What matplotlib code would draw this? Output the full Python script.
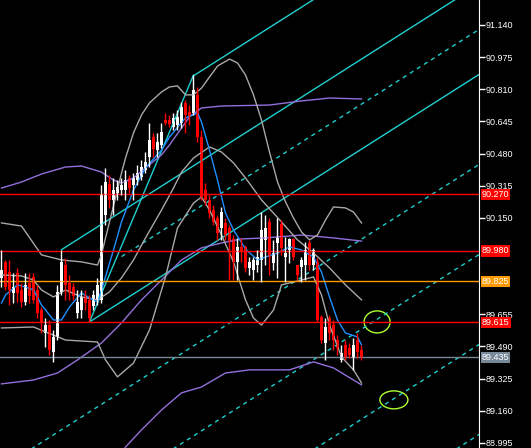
import numpy as np
import matplotlib.pyplot as plt
from matplotlib.patches import Ellipse

# Velas (precios)
opens = [89.842, 89.919, 89.872, 89.765, 89.867, 89.780, 89.718, 89.816, 89.847, 89.780,
         89.677, 89.559, 89.600, 89.462, 89.539, 89.770, 89.908, 89.816, 89.795, 89.662,
         89.677, 89.754, 89.729, 89.698, 89.729, 89.729, 90.165, 90.324, 90.242, 90.278,
         90.293, 90.293, 90.355, 90.319, 90.344, 90.360, 90.396, 90.462, 90.565, 90.498,
         90.524, 90.652, 90.652, 90.616, 90.627, 90.637, 90.740, 90.693, 90.688, 90.781,
         90.565, 90.293, 90.242, 90.190, 90.149, 90.098, 90.124, 90.098, 90.037, 89.924,
         90.001, 89.996, 89.893, 89.883, 89.908, 89.934, 90.037, 90.129, 89.919, 90.021,
         90.114, 89.949, 89.985, 90.037, 89.908, 89.898, 89.908, 90.021, 89.908, 89.924,
         89.641, 89.508, 89.636, 89.600, 89.523, 89.421, 89.498, 89.482, 89.431, 89.523,
         89.472]
highs = [89.985, 89.934, 89.934, 89.867, 89.893, 89.816, 89.867, 89.867, 89.867, 89.806,
         89.693, 89.636, 89.626, 89.575, 89.806, 89.985, 89.944, 89.857, 89.816, 89.780,
         89.780, 89.780, 89.754, 89.780, 89.842, 90.319, 90.406, 90.370, 90.355, 90.344,
         90.355, 90.396, 90.370, 90.380, 90.421, 90.447, 90.488, 90.637, 90.586, 90.586,
         90.637, 90.688, 90.678, 90.688, 90.704, 90.745, 90.755, 90.729, 90.883, 90.822,
         90.601, 90.329, 90.267, 90.216, 90.165, 90.206, 90.149, 90.114, 90.062, 90.047,
         90.047, 90.011, 89.949, 89.949, 89.985, 90.180, 90.165, 90.149, 90.037, 90.149,
         90.139, 90.052, 90.047, 90.047, 89.908, 89.949, 90.026, 90.037, 89.996, 89.944,
         89.652, 89.636, 89.652, 89.626, 89.549, 89.498, 89.523, 89.508, 89.534, 89.559,
         89.498]
lows = [89.795, 89.780, 89.703, 89.713, 89.718, 89.693, 89.703, 89.713, 89.713, 89.636,
        89.559, 89.488, 89.446, 89.411, 89.523, 89.754, 89.729, 89.729, 89.729, 89.636,
        89.636, 89.677, 89.616, 89.677, 89.703, 89.713, 90.114, 90.201, 90.165, 90.242,
        90.267, 90.242, 90.278, 90.242, 90.319, 90.344, 90.380, 90.411, 90.462, 90.462,
        90.509, 90.627, 90.616, 90.601, 90.601, 90.611, 90.586, 90.627, 90.678, 90.539,
        90.242, 90.216, 90.149, 90.114, 90.037, 90.037, 90.037, 89.831, 89.831, 89.831,
        89.924, 89.872, 89.857, 89.831, 89.872, 89.821, 89.908, 89.857, 89.883, 89.842,
        89.960, 89.821, 89.919, 89.934, 89.831, 89.821, 89.831, 89.883, 89.883, 89.616,
        89.508, 89.421, 89.523, 89.472, 89.446, 89.411, 89.421, 89.431, 89.370, 89.431,
        89.421]
closes = [89.883, 89.795, 89.780, 89.795, 89.765, 89.718, 89.806, 89.749, 89.729, 89.662,
          89.611, 89.600, 89.472, 89.539, 89.770, 89.919, 89.806, 89.765, 89.749, 89.718,
          89.744, 89.713, 89.636, 89.754, 89.806, 90.267, 90.334, 90.242, 90.293, 90.308,
          90.319, 90.344, 90.303, 90.355, 90.380, 90.411, 90.437, 90.550, 90.503, 90.539,
          90.591, 90.637, 90.632, 90.663, 90.668, 90.719, 90.678, 90.668, 90.806, 90.565,
          90.257, 90.242, 90.175, 90.129, 90.072, 90.180, 90.062, 90.026, 89.924, 90.001,
          89.975, 89.893, 89.924, 89.934, 89.949, 90.088, 90.098, 89.949, 89.970, 90.047,
          89.996, 89.970, 90.037, 89.949, 89.857, 89.934, 89.985, 89.908, 89.985, 89.626,
          89.523, 89.590, 89.559, 89.523, 89.482, 89.457, 89.436, 89.446, 89.498, 89.462,
          89.436]

# Bandas de Bollinger (gris), leídas cada pocas velas
bb_up_x = [0, 5, 10, 15, 20, 24, 25, 26, 28, 30, 31, 33, 35, 37, 40, 42, 44, 46, 48, 50,
           52, 54, 57, 59, 61, 63, 65, 67, 69, 71, 73, 75, 77, 79, 81, 83, 86, 88, 90]
bb_up = [90.124, 90.108, 89.960, 89.934, 89.924, 89.908, 89.960, 90.047, 90.211, 90.380,
         90.457, 90.586, 90.678, 90.740, 90.796, 90.822, 90.827, 90.781, 90.781, 90.816,
         90.873, 90.929, 90.965, 90.945, 90.883, 90.781, 90.652, 90.488, 90.334, 90.232,
         90.149, 90.078, 90.037, 90.062, 90.139, 90.206, 90.201, 90.180, 90.124]
bb_mid_x = [0, 5, 8, 10, 13, 16, 20, 24, 27, 30, 33, 36, 40, 43, 45, 48, 52, 55, 58, 61,
            65, 70, 74, 78, 82, 86, 90]
bb_mid = [89.857, 89.852, 89.831, 89.780, 89.744, 89.780, 89.744, 89.729, 89.770, 89.842,
          89.934, 90.047, 90.190, 90.303, 90.385, 90.457, 90.514, 90.488, 90.432, 90.355,
          90.242, 90.129, 90.037, 89.970, 89.893, 89.806, 89.729]
bb_low_x = [0, 8, 16, 24, 26, 29, 33, 37, 41, 44, 48, 50, 52, 55, 58, 61, 63, 65, 68, 70,
            75, 78, 80, 82, 85, 88, 90]
bb_low = [89.585, 89.590, 89.523, 89.513, 89.421, 89.334, 89.405, 89.575, 89.847, 90.098,
          90.226, 90.257, 90.190, 90.062, 89.924, 89.729, 89.636, 89.600, 89.677, 89.806,
          89.831, 89.847, 89.754, 89.600, 89.436, 89.370, 89.303]

# Bandas lentas (violeta)
pb_up_x = [0, 5, 10, 16, 20, 25, 28, 30, 33, 36, 40, 42, 45, 47, 50, 55, 67, 75, 82, 90]
pb_up = [90.303, 90.334, 90.375, 90.411, 90.416, 90.385, 90.344, 90.329, 90.355, 90.406,
         90.473, 90.524, 90.611, 90.668, 90.714, 90.724, 90.729, 90.750, 90.765, 90.760]
pb_mid_x = [0, 8, 14, 19, 25, 30, 35, 40, 45, 50, 55, 60, 66, 75, 83, 90]
pb_mid = [89.298, 89.318, 89.354, 89.421, 89.508, 89.611, 89.729, 89.831, 89.934, 89.996,
          90.021, 90.042, 90.047, 90.062, 90.047, 90.031]
pb_low_x = [30, 31, 35, 40, 45, 50, 56, 62, 72, 78, 83, 90]
pb_low = [88.933, 88.974, 89.062, 89.164, 89.252, 89.282, 89.354, 89.370, 89.370, 89.411,
          89.380, 89.293]

# Media móvil rápida (azul)
ma_x = [0, 1, 4, 6, 8, 10, 13, 15, 17, 20, 22, 24, 25, 28, 30, 33, 36, 40, 42, 46,
        49, 50, 52, 54, 56, 58, 61, 64, 66, 69, 72, 75, 78, 80, 82, 84, 86, 89, 90]
ma = [89.713, 89.754, 89.806, 89.795, 89.780, 89.703, 89.626, 89.626, 89.693, 89.765,
      89.739, 89.718, 89.780, 89.985, 90.129, 90.293, 90.406, 90.498, 90.565, 90.663,
      90.688, 90.642, 90.498, 90.344, 90.175, 90.088, 89.990, 89.934, 89.949, 89.970,
      90.001, 89.985, 89.949, 89.872, 89.744, 89.626, 89.559, 89.539, 89.498]

# Canal: punto base, pendiente (precio por vela), ancho y niveles
canal_base_x = 22
canal_base_y = 89.616
canal_pend = 0.01304
canal_ancho = 0.462
canal_niveles = [2, 1, 0.5, 0, -1, -2, -3, -4]
canal_inicio = [48, 15, 30, 22, -1, -1, -1, -1]
canal_solida = [True, True, False, True, False, False, False, False]

# Línea de tendencia (mínimo -> máximo)
tend_x = [22, 48]
tend_y = [89.616, 90.883]

# Líneas horizontales
hlineas = [90.270, 89.980, 89.825, 89.615, 89.435]
hcolores = ['#ff0000', '#ff0000', '#ff9900', '#ff0000', '#778899']

ticks = [91.140, 90.975, 90.810, 90.645, 90.480, 90.315, 90.150,
         89.655, 89.490, 89.325, 89.160, 88.995]

fig = plt.figure(figsize=(5.31, 4.48), dpi=100, facecolor='black')
ax = fig.add_axes([0, 0, 479 / 531, 1])
ax.set_facecolor('black')
ax.set_xlim(-0.375, 119.375)
ax.set_ylim(88.969, 91.268)

# Canal
cyan = '#20d0d0'
xfin = 121
for nivel, ini, solida in zip(canal_niveles, canal_inicio, canal_solida):
    xs = np.array([ini, xfin])
    ys = canal_base_y + canal_pend * (xs - canal_base_x) + nivel * canal_ancho
    if solida:
        ax.plot(xs, ys, color=cyan, lw=1)
    else:
        ax.plot(xs, ys, color=cyan, lw=1, linestyle=(0, (3, 3)))
ax.plot(tend_x, tend_y, color=cyan, lw=1)

# Indicadores
ax.plot(pb_up_x, pb_up, color='#9370db', lw=1)
ax.plot(pb_mid_x, pb_mid, color='#9370db', lw=1)
ax.plot(pb_low_x, pb_low, color='#9370db', lw=1)
ax.plot(bb_up_x, bb_up, color='#a8a8a8', lw=1)
ax.plot(bb_mid_x, bb_mid, color='#a8a8a8', lw=1)
ax.plot(bb_low_x, bb_low, color='#a8a8a8', lw=1)
ax.plot(ma_x, ma, color='#1e90ff', lw=1)

# Horizontales
for h, c in zip(hlineas, hcolores):
    ax.axhline(h, color=c, lw=1)

# Velas
x = np.arange(len(closes))
o = np.array(opens); c = np.array(closes)
alcista = c >= o
col = np.where(alcista, 'white', '#ff0000')
ax.vlines(x, lows, highs, colors=col, lw=1)
ax.bar(x, np.abs(c - o) + 0.004, bottom=np.minimum(o, c) - 0.002, width=0.75,
       color=col, linewidth=0)

# Elipses
ax.add_patch(Ellipse((93.9, 89.616), 6.5, 0.113, fill=False, edgecolor='#adff2f', lw=1))
ax.add_patch(Ellipse((98.1, 89.216), 7.0, 0.092, fill=False, edgecolor='#adff2f', lw=1))

# Eje de precios
ax.yaxis.tick_right()
ax.set_yticks(ticks)
ax.set_yticklabels(['%.3f' % t for t in ticks])
ax.tick_params(axis='y', colors='white', length=4, width=1, pad=1, labelsize=6.5)
for lab in ax.get_yticklabels():
    lab.set_fontfamily('Liberation Sans')
ax.set_xticks([])
for s in ['left', 'top', 'bottom']:
    ax.spines[s].set_visible(False)
ax.spines['right'].set_color('white')

for h, cl in zip(hlineas, hcolores):
    ax.text(1.006, h, '%.3f' % h, transform=ax.get_yaxis_transform(), color='white',
            fontsize=6.5, family='Liberation Sans', va='center', ha='left',
            bbox=dict(facecolor=cl, edgecolor='none', pad=0.8))

plt.savefig('out.png', dpi=100, facecolor='black')
